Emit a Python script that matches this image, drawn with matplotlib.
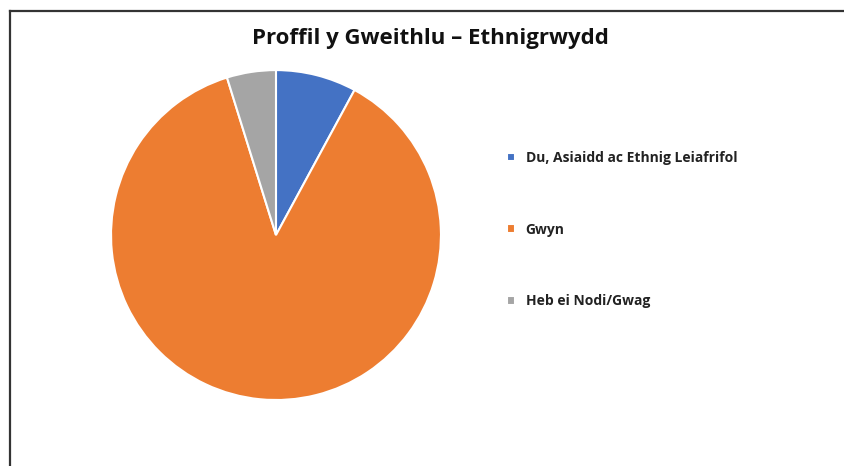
import matplotlib.pyplot as plt
from matplotlib.lines import Line2D

categories = ['Du, Asiaidd ac Ethnig Leiafrifol', 'Gwyn', 'Heb ei Nodi/Gwag']
values = [7.9, 87.3, 4.8]
colors = ['#4472C4', '#ED7D31', '#A5A5A5']

plt.rcParams['font.family'] = ['Open Sans', 'DejaVu Sans']

fig = plt.figure(figsize=(8.44, 4.66), dpi=100)

# pie axes
ax = fig.add_axes([0.1315, 0.1416, 0.391, 0.708])
wedges, _ = ax.pie(values, colors=colors, startangle=90, counterclock=False,
                   wedgeprops=dict(edgecolor='white', linewidth=1.5))
ax.set_xlim(-1.0, 1.0)
ax.set_ylim(-1.0, 1.0)
ax.set_aspect('equal')

fig.text(0.51, 0.918, 'Proffil y Gweithlu – Ethnigrwydd', ha='center', va='center',
         fontsize=16, fontweight='bold', color='#111111')

# legend
leg = fig.legend(wedges, categories, loc='upper left', bbox_to_anchor=(0.594, 0.688),
                 frameon=False, fontsize=10, handlelength=0.6, handleheight=0.6,
                 handletextpad=0.75, labelspacing=4.15, borderaxespad=0)
for t in leg.get_texts():
    t.set_fontweight('bold')
    t.set_color('#222222')

# frame lines (top and left)
fig.add_artist(Line2D([10 / 844, 1.0], [1 - 11 / 466, 1 - 11 / 466],
                      transform=fig.transFigure, color='#333333', linewidth=1.6))
fig.add_artist(Line2D([10 / 844, 10 / 844], [0.0, 1 - 11 / 466],
                      transform=fig.transFigure, color='#333333', linewidth=1.6))

fig.savefig('out.png', dpi=100)
